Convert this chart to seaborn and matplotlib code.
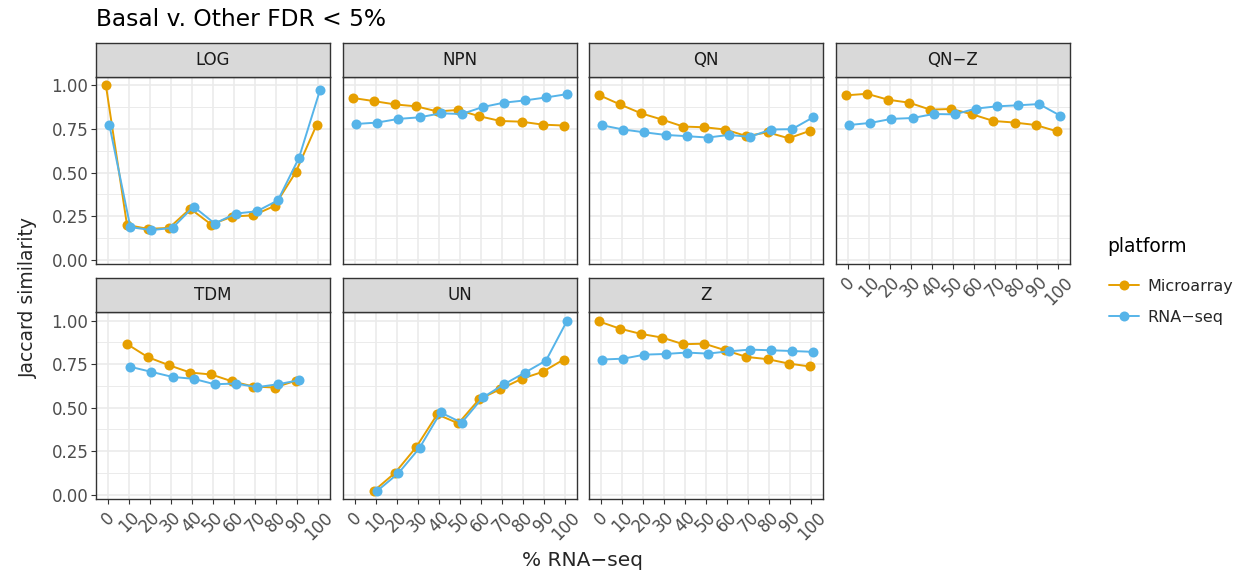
import numpy as np
import pandas as pd
import matplotlib
matplotlib.use("Agg")
import matplotlib.pyplot as plt
import seaborn as sns
from matplotlib.lines import Line2D
from matplotlib.ticker import MultipleLocator

# ---------------- data ----------------
pct = [0, 10, 20, 30, 40, 50, 60, 70, 80, 90, 100]
methods = ["LOG", "NPN", "QN", "QN\u2212Z", "TDM", "UN", "Z"]
platforms = ["Microarray", "RNA\u2212seq"]

log_micro = [1.00, 0.200, 0.177, 0.183, 0.293, 0.202, 0.248, 0.255, 0.309, 0.501, 0.775]
log_rna = [0.775, 0.187, 0.170, 0.183, 0.305, 0.208, 0.265, 0.278, 0.341, 0.585, 0.975]

npn_micro = [0.928, 0.910, 0.891, 0.880, 0.851, 0.859, 0.823, 0.796, 0.792, 0.775, 0.770]
npn_rna = [0.779, 0.787, 0.808, 0.817, 0.840, 0.836, 0.876, 0.901, 0.914, 0.931, 0.950]

qn_micro = [0.945, 0.891, 0.840, 0.804, 0.764, 0.760, 0.747, 0.709, 0.731, 0.697, 0.739]
qn_rna = [0.771, 0.747, 0.731, 0.716, 0.709, 0.701, 0.716, 0.705, 0.747, 0.749, 0.817]

qnz_micro = [0.943, 0.952, 0.918, 0.901, 0.861, 0.865, 0.834, 0.796, 0.787, 0.773, 0.737]
qnz_rna = [0.773, 0.785, 0.808, 0.813, 0.836, 0.834, 0.867, 0.880, 0.886, 0.893, 0.827]

tdm_micro = [None, 0.866, 0.790, 0.744, 0.702, 0.691, 0.651, 0.622, 0.616, 0.655, None]
tdm_rna = [None, 0.735, 0.706, 0.677, 0.666, 0.635, 0.639, 0.618, 0.635, 0.658, None]

un_micro = [None, 0.023, 0.126, 0.273, 0.462, 0.410, 0.550, 0.607, 0.666, 0.706, 0.777]
un_rna = [None, 0.023, 0.124, 0.269, 0.473, 0.414, 0.559, 0.634, 0.702, 0.771, 1.000]

z_micro = [0.996, 0.954, 0.924, 0.903, 0.865, 0.868, 0.830, 0.792, 0.779, 0.754, 0.737]
z_rna = [0.777, 0.782, 0.805, 0.809, 0.817, 0.811, 0.824, 0.834, 0.830, 0.826, 0.821]

y_ticks = [0.00, 0.25, 0.50, 0.75, 1.00]
y_tick_labels = ["0.00", "0.25", "0.50", "0.75", "1.00"]

series = {
    "LOG": (log_micro, log_rna),
    "NPN": (npn_micro, npn_rna),
    "QN": (qn_micro, qn_rna),
    "QN\u2212Z": (qnz_micro, qnz_rna),
    "TDM": (tdm_micro, tdm_rna),
    "UN": (un_micro, un_rna),
    "Z": (z_micro, z_rna),
}

rows = []
for m in methods:
    for p, vals in zip(platforms, series[m]):
        for x, v in zip(pct, vals):
            if v is not None:
                rows.append({"method": m, "platform": p, "pct": x, "jaccard": v})
df = pd.DataFrame(rows)
dodge = {"Microarray": -0.8, "RNA\u2212seq": 0.8}
df["xpos"] = df["pct"] + df["platform"].map(dodge)

palette = {"Microarray": "#E69F00", "RNA\u2212seq": "#56B4E9"}

# ---------------- style ----------------
sns.set_theme(style="white")
plt.rcParams["font.family"] = ["DejaVu Sans"]

W, H = 1243, 577
fig = plt.figure(figsize=(W / 100, H / 100), dpi=100)

lefts = [96, 343, 589, 836]
pw = 234
rows_px = [(76.7, 264.3), (312.0, 499.3)]
strip_h = 34

def fx(px):
    return px / W

def fy(px):
    return 1 - px / H

for i, m in enumerate(methods):
    r, c = divmod(i, 4)
    top, bot = rows_px[r]
    ax = fig.add_axes([fx(lefts[c]), fy(bot), fx(pw), (bot - top) / H])
    sub = df[df["method"] == m]
    sns.lineplot(data=sub, x="xpos", y="jaccard", hue="platform", hue_order=platforms,
                 palette=palette, marker="o", markersize=7.2, markeredgewidth=0,
                 linewidth=1.4, ax=ax, legend=False, estimator=None, sort=True)
    ax.set_xlim(-5.5, 105.5)
    ax.set_ylim(-0.026, 1.05)
    ax.set_xticks(pct)
    ax.set_yticks(y_ticks)
    ax.yaxis.set_minor_locator(MultipleLocator(0.125))
    ax.grid(True, which="major", color="#EBEBEB", linewidth=1.2)
    ax.grid(True, which="minor", axis="y", color="#EBEBEB", linewidth=0.7)
    ax.set_axisbelow(True)
    for s in ax.spines.values():
        s.set_color("#333333")
        s.set_linewidth(1.0)
    ax.set_xlabel("")
    ax.set_ylabel("")
    show_y = c == 0
    show_x = (r == 1) or (m == "QN\u2212Z")
    ax.tick_params(axis="y", which="major", left=show_y, labelleft=show_y,
                   length=3.5, width=0.8, color="#333333", labelsize=12,
                   labelcolor="#4D4D4D", pad=2)
    ax.tick_params(axis="y", which="minor", left=False)
    ax.tick_params(axis="x", bottom=show_x, labelbottom=show_x, length=3.5,
                   width=0.8, color="#333333", labelsize=12,
                   labelcolor="#4D4D4D", pad=3)
    if show_y:
        ax.set_yticklabels(y_tick_labels)
    if show_x:
        ax.set_xticklabels([str(p) for p in pct], rotation=45, ha="center", va="top")
    # strip
    sax = fig.add_axes([fx(lefts[c]), fy(top), fx(pw), strip_h / H])
    sax.set_facecolor("#D9D9D9")
    sax.set_xticks([])
    sax.set_yticks([])
    for s in sax.spines.values():
        s.set_color("#333333")
        s.set_linewidth(1.0)
    sax.text(0.5, 0.5, m, ha="center", va="center", fontsize=12, color="#1A1A1A",
             transform=sax.transAxes)

fig.text(fx(96), fy(19), "Basal v. Other FDR < 5%", ha="left", va="center",
         fontsize=16.8, color="black")
fig.text(fx(583), fy(560), "% RNA\u2212seq", ha="center", va="center", fontsize=14.5)
fig.text(fx(28), fy(298), "Jaccard similarity", ha="center", va="center",
         rotation=90, fontsize=13.5)

# legend: title placed as text, entries as a figure legend
fig.text(fx(1107), fy(247), "platform", ha="left", va="center", fontsize=13.5,
         color="black")
handles = [Line2D([], [], color=palette[p], marker="o", markersize=7.2,
                  markeredgewidth=0, linewidth=1.4) for p in platforms]
leg = fig.legend(handles, platforms, loc="center left",
                 bbox_to_anchor=(fx(1109), fy(302)), frameon=False, borderpad=0,
                 borderaxespad=0, fontsize=11.5, handlelength=1.9,
                 labelspacing=1.0, handletextpad=0.5)

fig.savefig("out.png", dpi=100)
